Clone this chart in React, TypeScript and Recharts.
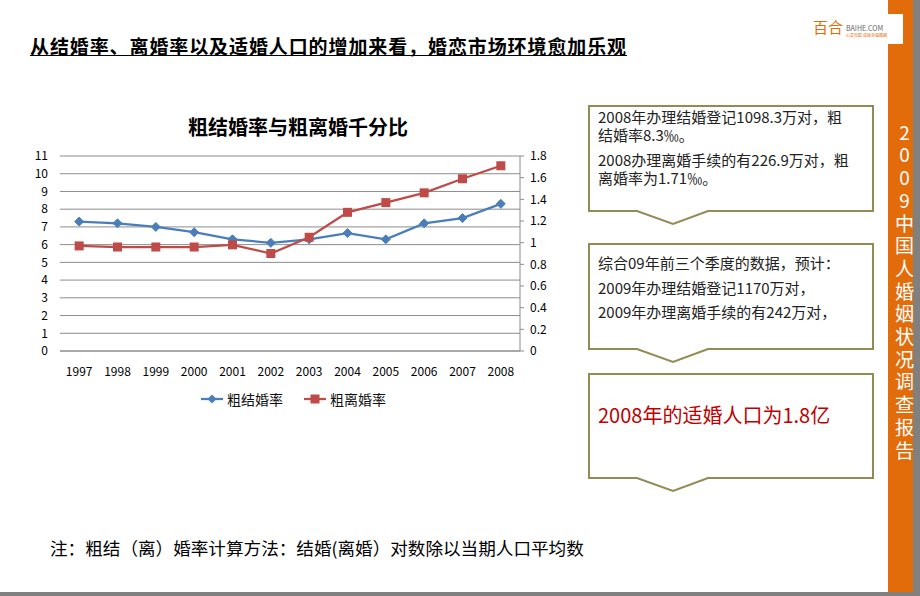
import React from 'react';
import {
  LineChart,
  Line,
  XAxis,
  YAxis,
  CartesianGrid,
  Legend,
} from 'recharts';

const years = ['1997', '1998', '1999', '2000', '2001', '2002', '2003', '2004', '2005', '2006', '2007', '2008'];
const marriageRate = [7.3, 7.2, 7.0, 6.7, 6.3, 6.1, 6.3, 6.65, 6.3, 7.2, 7.5, 8.3];
const divorceRate = [0.97, 0.96, 0.96, 0.96, 0.98, 0.9, 1.05, 1.28, 1.37, 1.46, 1.59, 1.71];
const leftTicks = [0, 1, 2, 3, 4, 5, 6, 7, 8, 9, 10, 11];
const rightTicks = [0, 0.2, 0.4, 0.6, 0.8, 1, 1.2, 1.4, 1.6, 1.8];
const seriesOrder = ['marriage', 'divorce'];

const data = years.map((year, i) => ({
  year,
  marriage: marriageRate[i],
  divorce: divorceRate[i],
}));

const BLUE = '#4a7ebb';
const RED = '#be4b48';
const GRID = '#8c8c8c';
const OLIVE = '#948a54';
const FONT = '"Noto Sans CJK SC", "Noto Sans", sans-serif';

const DiamondDot = (props: any) => {
  const { cx, cy, index } = props;
  if (cx == null || cy == null) return null;
  const r = 4.5;
  return (
    <polygon
      key={`d-${index}`}
      points={`${cx},${cy - r} ${cx + r},${cy} ${cx},${cy + r} ${cx - r},${cy}`}
      fill={BLUE}
      stroke={BLUE}
    />
  );
};

const SquareDot = (props: any) => {
  const { cx, cy, index } = props;
  if (cx == null || cy == null) return null;
  const s = 9;
  return <rect key={`s-${index}`} x={cx - s / 2} y={cy - s / 2} width={s} height={s} fill={RED} />;
};

const LegendContent = (props: any) => {
  const payload = [...(props.payload || [])].sort(
    (a: any, b: any) => seriesOrder.indexOf(a.dataKey) - seriesOrder.indexOf(b.dataKey)
  );
  return (
    <div style={{ display: 'flex', marginLeft: 181, height: 22, alignItems: 'center' }}>
      {payload.map((p: any, i: number) => (
        <div key={i} style={{ display: 'flex', alignItems: 'center', marginRight: 21 }}>
          <svg width={22} height={12}>
            <line x1={0} y1={6} x2={22} y2={6} stroke={p.color} strokeWidth={2.25} />
            {p.dataKey === 'marriage' ? (
              <polygon points="11,1.5 15.5,6 11,10.5 6.5,6" fill={p.color} />
            ) : (
              <rect x={6.5} y={1.5} width={9} height={9} fill={p.color} />
            )}
          </svg>
          <span style={{ fontSize: 14, color: '#111', marginLeft: 4, fontFamily: FONT }}>{p.value}</span>
        </div>
      ))}
    </div>
  );
};

const boxPath = (top: number, bottom: number) =>
  `M589,${top} H873 V${bottom} H708 L673,${bottom + 13} L637,${bottom} H589 Z`;

export default function App() {
  return (
    <div
      style={{
        position: 'absolute',
        left: 0,
        top: 0,
        width: 920,
        height: 596,
        background: '#fff',
        fontFamily: FONT,
        overflow: 'hidden',
      }}
    >
      {/* side bar and frame */}
      <div style={{ position: 'absolute', left: 888, top: 0, width: 25, height: 592, background: '#e36c0a' }} />
      <div style={{ position: 'absolute', left: 913, top: 0, width: 7, height: 596, background: '#808080' }} />
      <div style={{ position: 'absolute', left: 0, top: 592, width: 913, height: 4, background: '#808080' }} />
      <div style={{ position: 'absolute', left: 808, top: 14, width: 95, height: 30, background: '#fff' }} />
      <div style={{ position: 'absolute', left: 813, top: 18, fontSize: 15, color: '#e36c0a', lineHeight: '18px' }}>
        百合
      </div>
      <div style={{ position: 'absolute', left: 846, top: 24, fontSize: 7, color: '#666', lineHeight: '8px' }}>
        BAIHE.COM
      </div>
      <div style={{ position: 'absolute', left: 846, top: 33, fontSize: 4, color: '#e36c0a', lineHeight: '5px' }}>
        心灵百配 成就幸福婚姻
      </div>
      <div
        style={{
          position: 'absolute',
          left: 893,
          top: 123,
          width: 22,
          writingMode: 'vertical-rl',
          textOrientation: 'upright',
          letterSpacing: 3.7,
          fontSize: 19,
          lineHeight: '22px',
          color: '#fff',
          whiteSpace: 'nowrap',
        }}
      >
        2009中国人婚姻状况调查报告
      </div>

      {/* headline */}
      <div
        style={{
          position: 'absolute',
          left: 30,
          top: 33,
          fontSize: 19,
          letterSpacing: 0.9,
          lineHeight: '26px',
          fontWeight: 700,
          textDecoration: 'underline',
          color: '#000',
          whiteSpace: 'nowrap',
        }}
      >
        从结婚率、离婚率以及适婚人口的增加来看，婚恋市场环境愈加乐观
      </div>

      {/* chart title */}
      <div
        style={{
          position: 'absolute',
          left: 188,
          top: 114,
          fontSize: 20,
          lineHeight: '26px',
          fontWeight: 700,
          color: '#000',
          whiteSpace: 'nowrap',
        }}
      >
        粗结婚率与粗离婚千分比
      </div>

      <div style={{ position: 'absolute', left: 20, top: 100 }}>
        <LineChart width={560} height={320} data={data} margin={{ top: 56, right: 0, left: 0, bottom: 0 }}>
          <CartesianGrid vertical={false} stroke={GRID} strokeWidth={1} />
          <XAxis
            dataKey="year"
            scale="band"
            height={69}
            tickLine={false}
            tickSize={0}
            tickMargin={16}
            axisLine={{ stroke: GRID }}
            tick={{ fontSize: 12, fill: '#000', fontFamily: FONT }}
            interval={0}
          />
          <YAxis
            domain={[0, 11]}
            ticks={leftTicks}
            width={40}
            axisLine={false}
            tickLine={false}
            tickSize={0}
            tickMargin={12}
            interval={0}
            tick={{ fontSize: 12, fill: '#000', fontFamily: FONT }}
          />
          <YAxis
            yAxisId="right"
            orientation="right"
            domain={[0, 1.8]}
            ticks={rightTicks}
            width={60}
            axisLine={{ stroke: GRID }}
            tickLine={{ stroke: GRID }}
            tickSize={4}
            tickMargin={6}
            interval={0}
            tick={{ fontSize: 12, fill: '#000', fontFamily: FONT, textAnchor: 'start' }}
          />
          <Legend
            verticalAlign="middle"
            layout="horizontal"
            wrapperStyle={{ top: 288, left: 0, width: 560 }}
            content={<LegendContent />}
          />
          <Line
            dataKey="marriage"
            name="粗结婚率"
            stroke={BLUE}
            strokeWidth={2.25}
            dot={DiamondDot}
            isAnimationActive={false}
          />
          <Line
            dataKey="divorce"
            yAxisId="right"
            name="粗离婚率"
            stroke={RED}
            strokeWidth={2.25}
            dot={SquareDot}
            isAnimationActive={false}
          />
        </LineChart>
      </div>

      {/* callouts */}
      <svg width={920} height={596} style={{ position: 'absolute', left: 0, top: 0, pointerEvents: 'none' }}>
        <path d={boxPath(106, 211)} fill="none" stroke={OLIVE} strokeWidth={2} />
        <path d={boxPath(244, 349)} fill="none" stroke={OLIVE} strokeWidth={2} />
        <path d={boxPath(374, 478)} fill="none" stroke={OLIVE} strokeWidth={2} />
      </svg>
      <div style={{ position: 'absolute', left: 598, top: 108, fontSize: 15, lineHeight: '18px', color: '#222', whiteSpace: 'nowrap' }}>
        2008年办理结婚登记1098.3万对，粗
        <br />
        结婚率8.3‰。
      </div>
      <div style={{ position: 'absolute', left: 598, top: 151, fontSize: 15, lineHeight: '18px', color: '#222', whiteSpace: 'nowrap' }}>
        2008办理离婚手续的有226.9万对，粗
        <br />
        离婚率为1.71‰。
      </div>
      <div style={{ position: 'absolute', left: 598, top: 251, fontSize: 15, lineHeight: '24.5px', color: '#222', whiteSpace: 'nowrap' }}>
        综合09年前三个季度的数据，预计：
        <br />
        2009年办理结婚登记1170万对，
        <br />
        2009年办理离婚手续的有242万对，
      </div>
      <div style={{ position: 'absolute', left: 598, top: 402, fontSize: 20, lineHeight: '26px', color: '#c00000', whiteSpace: 'nowrap' }}>
        2008年的适婚人口为1.8亿
      </div>

      {/* footnote */}
      <div style={{ position: 'absolute', left: 50, top: 536, fontSize: 17.6, lineHeight: '24px', color: '#000', whiteSpace: 'nowrap' }}>
        注：粗结（离）婚率计算方法：结婚(离婚）对数除以当期人口平均数
      </div>
    </div>
  );
}
